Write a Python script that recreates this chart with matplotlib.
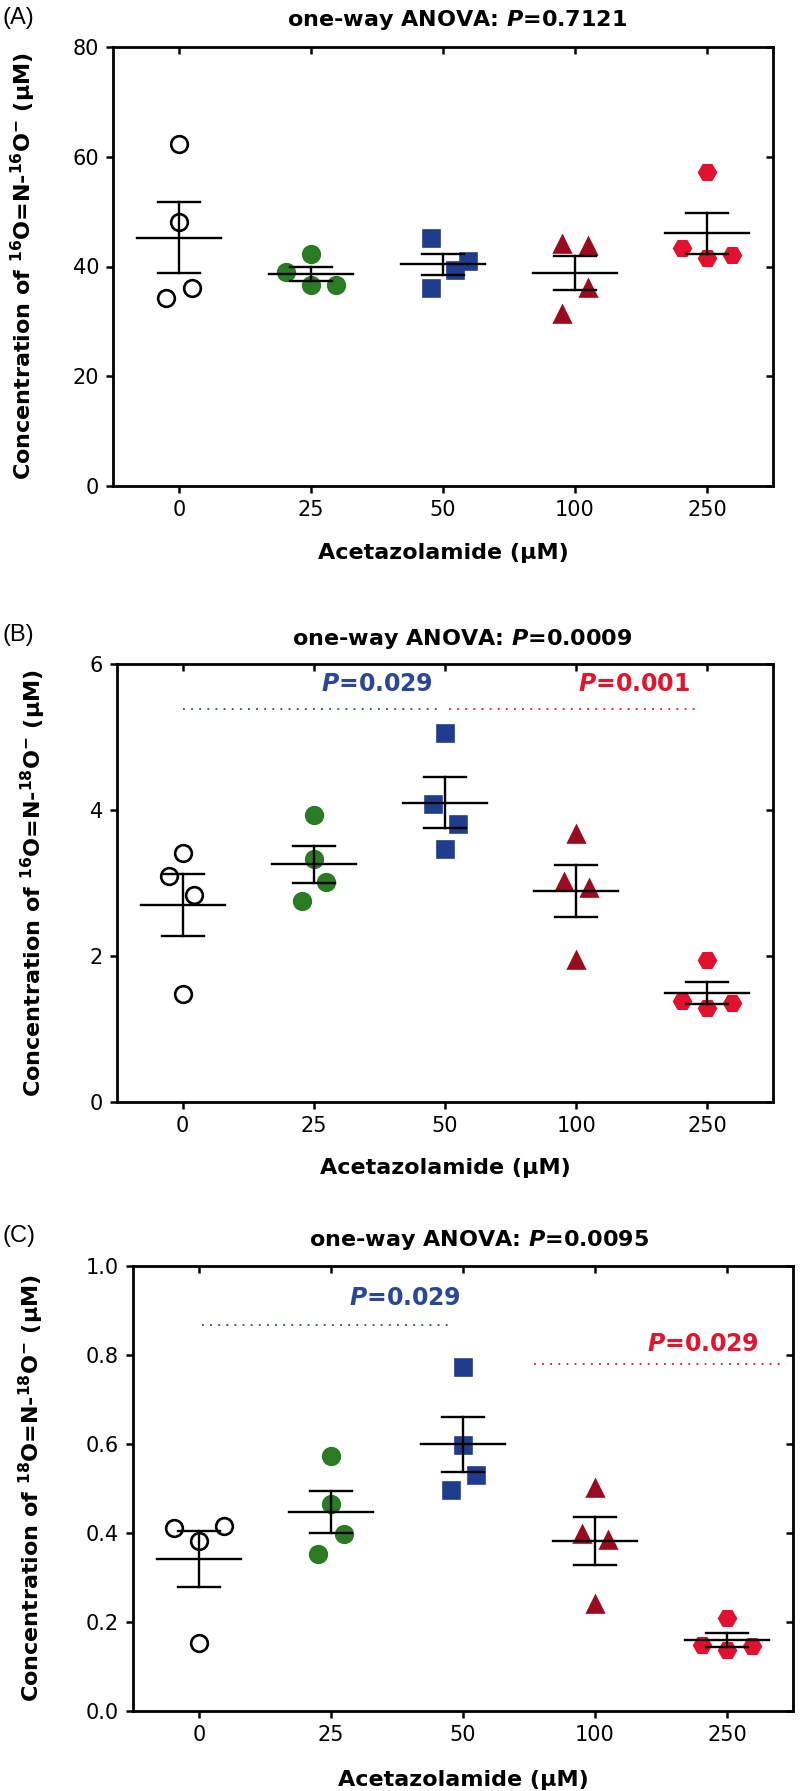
import numpy as np
import matplotlib
matplotlib.use('Agg')
import matplotlib.pyplot as plt

plt.rcParams['font.family'] = 'DejaVu Sans'
plt.rcParams['mathtext.fontset'] = 'custom'
plt.rcParams['mathtext.rm'] = 'DejaVu Sans:bold'
plt.rcParams['mathtext.it'] = 'DejaVu Sans:italic:bold'
plt.rcParams['mathtext.bf'] = 'DejaVu Sans:bold'

# categories
doses = ['0', '25', '50', '100', '250']
face_cols = ['white', '#2b7a24', '#1f3d8c', '#9a0b20', '#e2112f']
edge_cols = ['black', '#2b7a24', '#1f3d8c', '#9a0b20', '#e2112f']
markers = ['o', 'o', 's', '^', 'H']
blue_sig = '#2a4896'
red_sig = '#e0162f'

# panel A : 16O=N-16O-
a_vals = [[62.4, 48.1, 36.1, 34.3],
          [42.3, 39.0, 36.7, 36.7],
          [45.2, 41.0, 39.4, 36.1],
          [44.1, 43.8, 36.0, 31.3],
          [57.2, 43.4, 41.6, 42.1]]
a_off = [[0, 0, 0.1, -0.1], [0, -0.19, 0, 0.19], [-0.09, 0.19, 0.09, -0.09],
         [-0.1, 0.1, 0.1, -0.1], [0, -0.19, 0, 0.19]]

# panel B : 16O=N-18O-
b_vals = [[3.41, 3.09, 2.83, 1.48],
          [3.93, 3.33, 3.01, 2.75],
          [5.06, 4.08, 3.81, 3.46],
          [3.67, 3.02, 2.93, 1.94],
          [1.94, 1.39, 1.29, 1.35]]
b_off = [[0, -0.1, 0.09, 0], [0, 0, 0.09, -0.09], [0, -0.09, 0.1, 0],
         [0, -0.09, 0.1, 0], [0, -0.19, 0, 0.19]]

# panel C : 18O=N-18O-
c_vals = [[0.412, 0.415, 0.383, 0.153],
          [0.572, 0.465, 0.398, 0.353],
          [0.772, 0.597, 0.531, 0.496],
          [0.502, 0.398, 0.385, 0.241],
          [0.208, 0.149, 0.136, 0.147]]
c_off = [[-0.19, 0.19, 0, 0], [0, 0, 0.1, -0.1], [0, 0, 0.1, -0.09],
         [0, -0.1, 0.1, 0], [0, -0.19, 0, 0.19]]

W, H = 800, 1791
fig = plt.figure(figsize=(W / 100, H / 100), dpi=100)


def fx(px):
    return px / W


def fy(py):
    return 1 - py / H


def panel(box, vals, offs, ylim, yticks, ytl, ylabel, title, letter,
          title_xy, letter_y, ylab_x, xlab_y, sigs):
    l, t, r, b = box
    ax = fig.add_axes([fx(l), fy(b), fx(r - l), (b - t) / H])
    x = np.arange(len(doses))
    for i in range(len(doses)):
        v = np.array(vals[i])
        xs = x[i] + np.array(offs[i])
        ax.plot(xs, v, linestyle='none', marker=markers[i], ms=12,
                mfc=face_cols[i], mec=edge_cols[i], mew=1.9, zorder=3)
        m = v.mean()
        sem = v.std(ddof=1) / np.sqrt(len(v))
        ax.plot([x[i] - 0.32, x[i] + 0.32], [m, m], color='black', lw=1.7, zorder=4)
        ax.plot([x[i], x[i]], [m - sem, m + sem], color='black', lw=1.7, zorder=4)
        for yy in (m - sem, m + sem):
            ax.plot([x[i] - 0.16, x[i] + 0.16], [yy, yy], color='black', lw=1.7, zorder=4)
    for (x0, x1, yl, tx, ty, col, txt) in sigs:
        ax.plot([x0, x1], [yl, yl], color=col, lw=1.3, linestyle=(0, (1, 3.5)))
        ax.text(tx, ty, r'$\mathit{P}$=' + txt, color=col,
                fontsize=17, fontweight='bold', ha='center', va='center')
    ax.set_xlim(-0.5, 4.5)
    ax.set_ylim(*ylim)
    ax.set_xticks(x)
    ax.set_xticklabels(doses)
    ax.set_yticks(yticks)
    ax.set_yticklabels(ytl)
    ax.tick_params(direction='out', length=5, width=1.8, labelsize=15, pad=5)
    for s in ax.spines.values():
        s.set_linewidth(2.0)
    top = ax.secondary_xaxis('top')
    top.set_xticks(x)
    top.tick_params(direction='in', length=5, width=1.8, labeltop=False)
    right = ax.secondary_yaxis('right')
    right.set_yticks(yticks)
    right.tick_params(direction='in', length=5, width=1.8, labelright=False)
    fig.text(fx(title_xy[0]), fy(title_xy[1]), title, fontsize=16,
             fontweight='bold', ha='center', va='center')
    fig.text(fx(3), fy(letter_y), letter, fontsize=17, family='Liberation Sans',
             ha='left', va='center')
    fig.text(fx(ylab_x), fy((t + b) / 2), ylabel, rotation=90, fontsize=16,
             fontweight='bold', ha='center', va='center')
    fig.text(fx((l + r) / 2), fy(xlab_y), r'Acetazolamide (μM)', fontsize=16,
             fontweight='bold', ha='center', va='center')
    return ax


panel((113, 47, 773, 486), a_vals, a_off, (0, 80), [0, 20, 40, 60, 80],
      ['0', '20', '40', '60', '80'],
      r'Concentration of $^{\mathrm{16}}$O=N-$^{\mathrm{16}}$O$^{\mathrm{-}}$ (μM)',
      r'one-way ANOVA: $\mathit{P}$=0.7121', '(A)', (457, 20), 18, 23, 553, [])

panel((117, 664, 773, 1102), b_vals, b_off, (0, 6), [0, 2, 4, 6],
      ['0', '2', '4', '6'],
      r'Concentration of $^{\mathrm{16}}$O=N-$^{\mathrm{18}}$O$^{\mathrm{-}}$ (μM)',
      r'one-way ANOVA: $\mathit{P}$=0.0009', '(B)', (462, 639), 635, 33, 1168,
      [(0, 1.94, 5.38, 1.48, 5.72, blue_sig, '0.029'),
       (2.03, 3.94, 5.38, 3.44, 5.72, red_sig, '0.001')])

panel((133, 1266, 793, 1711), c_vals, c_off, (0, 1.0), [0, 0.2, 0.4, 0.6, 0.8, 1.0],
      ['0.0', '0.2', '0.4', '0.6', '0.8', '1.0'],
      r'Concentration of $^{\mathrm{18}}$O=N-$^{\mathrm{18}}$O$^{\mathrm{-}}$ (μM)',
      r'one-way ANOVA: $\mathit{P}$=0.0095', '(C)', (479, 1240), 1236, 31, 1780,
      [(0.02, 1.92, 0.868, 1.56, 0.927, blue_sig, '0.029'),
       (2.54, 4.45, 0.780, 3.82, 0.824, red_sig, '0.029')])

fig.savefig('out.png', dpi=100)
